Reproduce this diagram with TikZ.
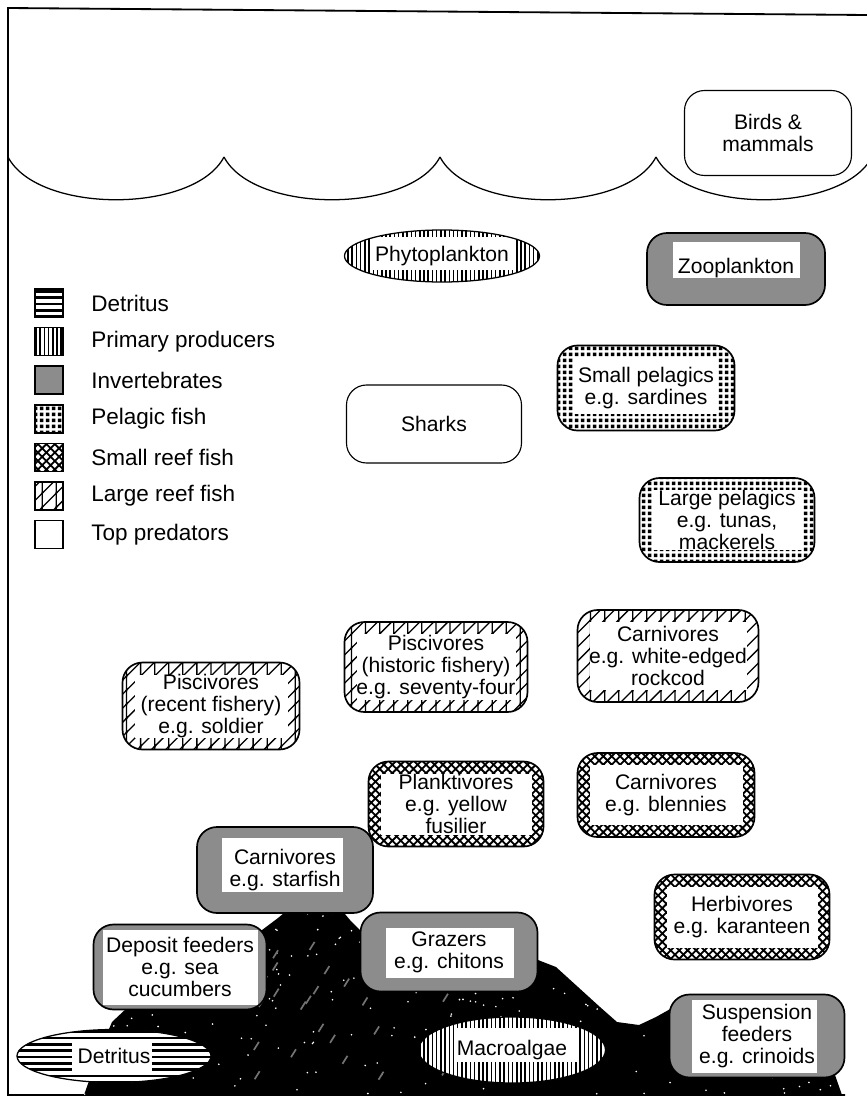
\documentclass[tikz,border=0pt]{standalone}
\usepackage{fontspec}
\setmainfont{Liberation Sans}
\usetikzlibrary{shapes.geometric,patterns}

% fill patterns of the groups
\pgfdeclarepatternformonly{hstripes}{\pgfqpoint{-1pt}{-1pt}}{\pgfqpoint{5.5pt}{5.5pt}}{\pgfqpoint{4.5pt}{4.5pt}}{%
  \pgfsetlinewidth{1.9pt}%
  \pgfpathmoveto{\pgfqpoint{-1pt}{2.25pt}}\pgfpathlineto{\pgfqpoint{5.5pt}{2.25pt}}\pgfusepath{stroke}}
\pgfdeclarepatternformonly{vstripes}{\pgfqpoint{-1pt}{-1pt}}{\pgfqpoint{4pt}{4pt}}{\pgfqpoint{3pt}{3pt}}{%
  \pgfsetlinewidth{1.1pt}%
  \pgfpathmoveto{\pgfqpoint{1.5pt}{-1pt}}\pgfpathlineto{\pgfqpoint{1.5pt}{4pt}}\pgfusepath{stroke}}
\pgfdeclarepatternformonly{squaredots}{\pgfqpoint{0pt}{0pt}}{\pgfqpoint{4pt}{4pt}}{\pgfqpoint{4pt}{4pt}}{%
  \pgfpathrectangle{\pgfqpoint{.7pt}{.7pt}}{\pgfqpoint{2.6pt}{2.6pt}}\pgfusepath{fill}}
\pgfdeclarepatternformonly{lattice}{\pgfqpoint{-1pt}{-1pt}}{\pgfqpoint{7pt}{7pt}}{\pgfqpoint{6pt}{6pt}}{%
  \pgfsetlinewidth{1.3pt}%
  \pgfpathmoveto{\pgfqpoint{-.5pt}{-.5pt}}\pgfpathlineto{\pgfqpoint{6.5pt}{6.5pt}}%
  \pgfpathmoveto{\pgfqpoint{-.5pt}{6.5pt}}\pgfpathlineto{\pgfqpoint{6.5pt}{-.5pt}}\pgfusepath{stroke}}
\pgfdeclarepatternformonly{sparse}{\pgfqpoint{-1pt}{-1pt}}{\pgfqpoint{11pt}{11pt}}{\pgfqpoint{10pt}{10pt}}{%
  \pgfsetlinewidth{.9pt}%
  \pgfpathmoveto{\pgfqpoint{0pt}{-1pt}}\pgfpathlineto{\pgfqpoint{0pt}{11pt}}%
  \pgfpathmoveto{\pgfqpoint{-1pt}{-1pt}}\pgfpathlineto{\pgfqpoint{11pt}{11pt}}\pgfusepath{stroke}}

\begin{document}
\begin{tikzpicture}[x=.025cm,y=-.025cm,font=\fontsize{15}{15.5}\selectfont,
  detritus/.style={pattern=hstripes},
  producer/.style={pattern=vstripes},
  invertebrate/.style={fill=black!45},
  pelagic/.style={pattern=squaredots},
  smallreef/.style={pattern=lattice},
  largereef/.style={pattern=sparse},
  toppred/.style={fill=white},
  gap/.code n args={4}{\def\gapl{#1}\def\gapr{#2}\def\gapt{#3}\def\gapb{#4}},
  band/.style={gap={12}{12}{12}{12},path picture={
    \fill[white,sharp corners] (path picture bounding box.south west) rectangle (path picture bounding box.north east);
    \fill[#1,sharp corners] (path picture bounding box.south west) rectangle (path picture bounding box.north east);
    \fill[white,sharp corners] ([xshift=\gapl*.025cm,yshift=\gapb*.025cm]path picture bounding box.south west)
      rectangle ([xshift=-\gapr*.025cm,yshift=-\gapt*.025cm]path picture bounding box.north east);}},
  grp/.style={draw,line width=1.2pt,rounded corners=.5cm,align=center,inner sep=0pt,band={#1}},
  ovl/.style={ellipse,draw,line width=.9pt,inner sep=0pt,band={#1}},
  apex/.style={draw,line width=.8pt,rounded corners=.5cm,align=center,inner sep=0pt},
  wh/.style 2 args={minimum width=#1*.025cm,minimum height=#2*.025cm}]
  \useasboundingbox (0,0) rectangle (867,1098);

  % frame and sea surface
  \draw[line width=1.3pt] (867,15) -- (8,8) -- (8,1095) -- (845,1095);
  \foreach \c in {8,224,440,656}
    \draw[line width=.9pt] (\c,157) .. controls +(30,57) and +(-30,57) .. ({\c+216},157);

  % reef
  \begin{scope}
    \clip (84,1095) -- (100,1050) -- (112,1022) -- (128,1007) -- (145,1000) -- (210,975) -- (262,930)
      -- (278,918) -- (290,908) -- (340,908) -- (350,920) -- (362,932) -- (450,945) -- (538,960)
      -- (556,967) -- (578,987) -- (600,1007) -- (617,1022) -- (639,1025) -- (656,1017) -- (672,1008)
      -- (760,1040) -- (835,1075) -- (842,1095) -- cycle;
    \fill (0,880) rectangle (867,1098);
    \pgfmathsetseed{11}
    \foreach \k in {1,...,300} \fill[white] ({80+770*rnd},{900+195*rnd}) circle (.9);
    \foreach \k in {1,...,40} \draw[black!55,line width=1.2pt] ({250+300*rnd},{940+140*rnd}) -- +(5,-8);
  \end{scope}

  % legend
  \foreach \sty/\txt [count=\k from 0] in {detritus/Detritus,producer/Primary producers,invertebrate/Invertebrates,
      pelagic/Pelagic fish,smallreef/Small reef fish,largereef/Large reef fish,toppred/Top predators} {
    \node[draw,line width=1.1pt,\sty,minimum size=.7cm,inner sep=0pt] (key\k) at (49,{303+38.6*\k}) {};
    \node[anchor=west,inner sep=0pt,font=\fontsize{16}{16}\selectfont] (lab\k) at (91,{303+38.6*\k}) {\txt};
  }

  % groups
  \node[apex,wh={167}{85}] (birds) at (768,133) {Birds \&\\mammals};
  \node[ovl=producer,wh={195}{52},gap={27}{27}{7}{12}] (phyto) at (442,256) {Phytoplankton};
  \node[grp=invertebrate,wh={178}{72},gap={26}{25}{9}{27}] (zoo) at (736,269) {\raisebox{5pt}{Zooplankton}};
  \node[grp=pelagic,wh={177}{85},gap={15}{17}{12}{17}] (smallpel) at (646,388) {Small pelagics\\e.g. sardines};
  \node[apex,wh={175}{78}] (sharks) at (434,424) {Sharks};
  \node[grp=pelagic,wh={175}{84}] (largepel) at (727,520) {Large pelagics\\e.g. tunas,\\mackerels};
  \node[grp=largereef,wh={183}{90}] (pischist) at (436,667) {Piscivores\\(historic fishery)\\e.g. seventy-four};
  \node[grp=largereef,wh={181}{92}] (carnrock) at (668,656) {Carnivores\\e.g. white-edged\\rockcod};
  \node[grp=largereef,wh={177}{87}] (piscrec) at (211,706) {Piscivores\\(recent fishery)\\e.g. soldier};
  \node[grp=smallreef,wh={175}{85}] (plank) at (456,804) {Planktivores\\e.g. yellow\\fusilier};
  \node[grp=smallreef,wh={177}{84}] (carnblen) at (666,795) {Carnivores\\e.g. blennies};
  \node[grp=invertebrate,wh={176}{86},gap={25}{30}{11}{21}] (carnstar) at (285,870) {Carnivores\\e.g. starfish};
  \node[grp=smallreef,wh={175}{85}] (herb) at (742,917) {Herbivores\\e.g. karanteen};
  \node[grp=invertebrate,wh={173}{85},gap={9}{9}{5}{5}] (deposit) at (180,967) {Deposit feeders\\e.g. sea\\cucumbers};
  \node[grp=invertebrate,wh={177}{79},gap={25}{24}{15}{14}] (grazers) at (449,952) {Grazers\\e.g. chitons};
  \node[grp=invertebrate,wh={175}{83},gap={22}{28}{5}{5}] (suspension) at (757,1036) {Suspension\\feeders\\e.g. crinoids};
  \node[ovl=detritus,wh={194}{53},gap={55}{59}{13}{11}] (detritus) at (114,1056) {Detritus};
  \node[ovl=producer,wh={187}{66},gap={36}{29}{11}{21}] (algae) at (512,1050) {\raisebox{3.5pt}{Macroalgae}};
\end{tikzpicture}
\end{document}
